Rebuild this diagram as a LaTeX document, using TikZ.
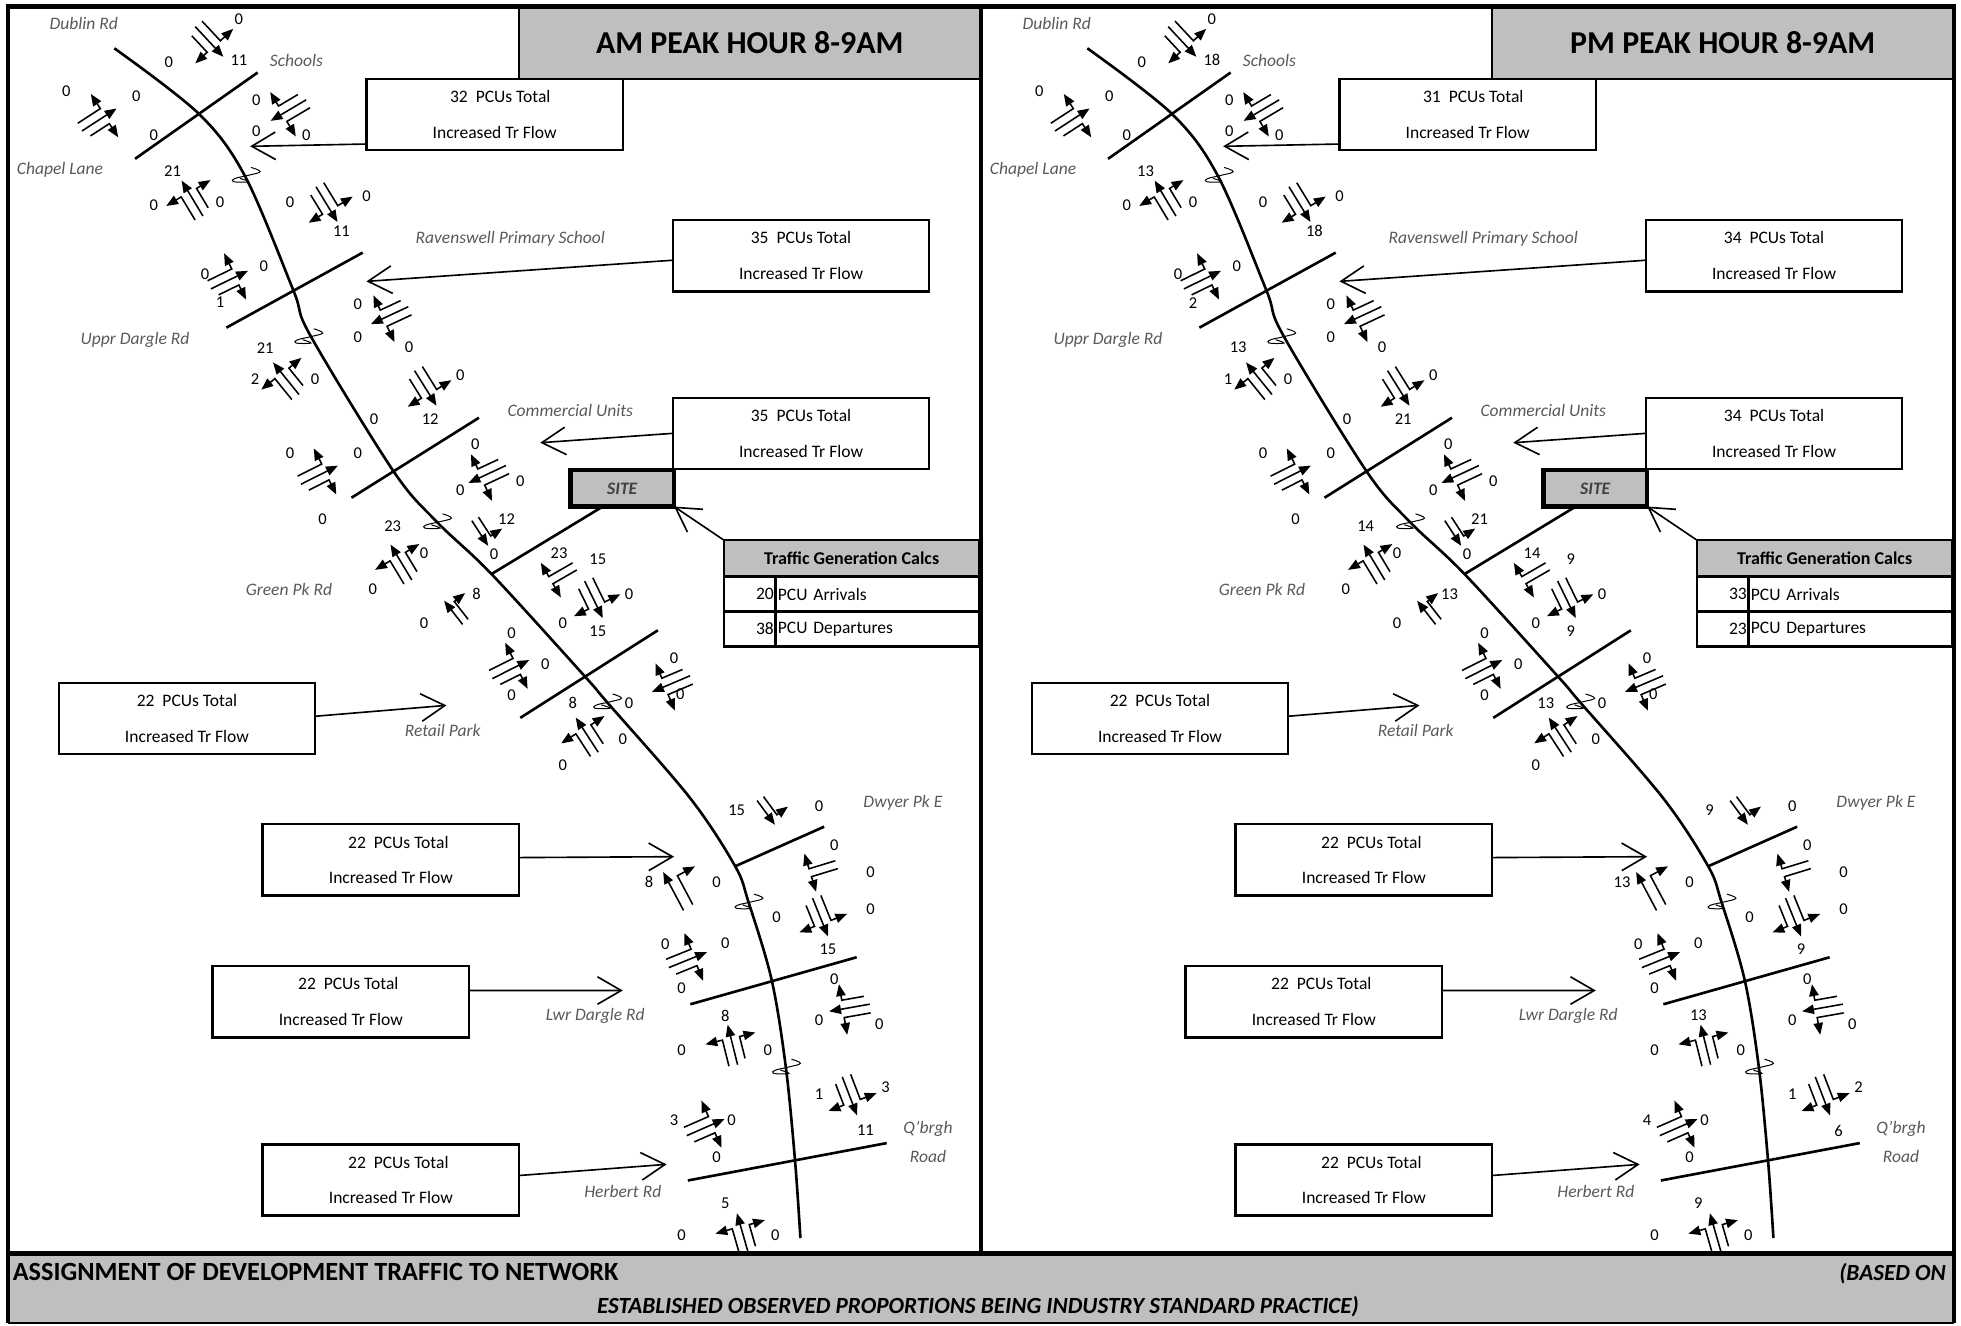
\documentclass[tikz,border=0pt]{standalone}
\usepackage{fontspec}
\setmainfont{Carlito}
\usetikzlibrary{arrows.meta}
\definecolor{hdrgray}{HTML}{BFBFBF}
\definecolor{roadtxt}{HTML}{595959}
\newcommand\fs[1]{\fontsize{#1}{#1}\selectfont}
\tikzset{
  road/.style={line width=2.1pt,line cap=butt},
  mvl/.style={line width=1.25pt,-{Triangle[length=9.5pt,width=7.5pt]}},
  squig/.style={line width=.8pt},
  val/.style={inner sep=0pt,font=\fs{13.2}},
  rname/.style={inner sep=0pt,text=roadtxt,font=\fs{14}\itshape},
  flowbox/.style={draw,line width=1.9pt,minimum width=205pt,minimum height=57pt,inner sep=0pt,outer sep=0pt,align=center,font=\fontsize{14}{28.5}\selectfont},
  callout/.style={line width=1.3pt,-{Straight Barb[length=19pt,width=22pt,line width=1.3pt]}},
  sitebox/.style={draw,line width=3.6pt,fill=hdrgray,minimum width=83pt,minimum height=29pt,inner sep=0pt,outer sep=0pt,text=black!75,font=\fs{14}\bfseries\itshape},
  hdrbox/.style={draw,line width=1.9pt,fill=hdrgray,inner sep=0pt,outer sep=0pt,font=\fs{14.4}\bfseries},
  cellbox/.style={draw,line width=1.9pt,inner sep=0pt,outer sep=0pt,font=\fs{14}},
  frameline/.style={line width=3.7pt},
}
\newcommand\glyphT{%
  \draw[mvl] (-16,0)--(17,0);
  \draw[mvl] (-15.5,-7)--(6,-7)--(6,-21);
  \draw[mvl] (-12.5,7)--(5.5,7)--(5.5,20);}
\newcommand\glyphSL{%
  \draw[mvl] (-12,0)--(12,0);
  \draw[mvl] (-11.5,-6)--(6.5,-6)--(6.5,-17);}
\newcommand\glyphSR{%
  \draw[mvl] (-12,0)--(12,0);
  \draw[mvl] (-11.5,6)--(6.5,6)--(6.5,17);}
\newcommand\glyphLR{%
  \draw[mvl] (-11,-3.3)--(11,-3.3)--(11,-16);
  \draw[mvl] (-11,3.3)--(11,3.3)--(11,16);}
\newcommand\squiggle{%
  \draw[squig] plot[smooth,tension=.7] coordinates {(4.8,-6.1)(12,-2.7)(2,0.3)(-8,2.7)(-9.3,5.3)(2.7,5.3)(-4,2.7)};}
\newcommand\pick[2]{\ifnum\which=1 #1\else #2\fi}
\newcommand\panel[2]{%
  % main road
  \draw[road] plot[smooth,tension=.55] coordinates {(91.4,38.6)(159,91)(196,141)(234.5,232)(248,268)(314.5,376.6)(349,417)(393,459)(467.8,541)(485,561)(551.7,638)(587.8,692.6)(598.4,721)(617,783.5)(628.3,853)(635.7,928)(640,990)};
  % side roads
  \foreach \xa/\ya/\xb/\yb in {108/127/206/58,181/262/290/202,281/398/383/334,393/459/482/405,416/574/526/504,588/692.6/659/661,552/803/685/765.4,550/943.9/709/914}
    {\draw[road] (\xa,\ya)--(\xb,\yb);}
  % direction squiggles
  \foreach \x/\y in {196/140,246/269,349/417,485/561,598/721,628/853}
    {\begin{scope}[shift={(\x,\y)}]\squiggle\end{scope}}
  % turning movement glyphs
  \foreach \x/\y/\a/\t/\s in {
    167/33/-47/T/1, 79/96/33/T/1, 231/88/210.6/T/1, 154/159/121/T/1, 261/163/-58.6/T/1,
    183/224/26/T/1, 312/252/205/T/1, 229/303/129/T/1, 340/310/-58/T/1, 255/380/26.7/T/1,
    390/379/205/T/1, 383.8/426.4/-57/SL/1, 321/450/121/T/1, 450/458.4/210/LR/1, 474.5/479/-64/T/1,
    362.5/489.8/128/SR/1, 408/535.4/26.7/T/1, 537/546.6/203/T/1, 469.6/588/123/T/1,
    612.5/649.8/-53.6/SL/1, 658.4/694.6/197/LR/1, 655.7/733/-68/T/1, 538.4/712.6/118/SR/1.45,
    549.6/767.7/22/T/1, 679.7/805.7/190/T/1, 585.9/835.8/104/T/1, 679.2/876/-69/T/1,
    563.8/901.6/23.7/T/1, 593.9/986.4/106/T/1}
    {\begin{scope}[shift={(\x,\y)},rotate=\a,scale=\s]\csname glyph\t\endcsname\end{scope}}
  % turning counts
  \foreach \x/\y/\am/\pmv [count=\n] in {
    191/15/0/0,191/48/11/18,135/50/0/0,53/73/0/0,109/77/0/0,123/108/0/0,205/80/0/0,205/105/0/0,245/108/0/0,
    138/137/21/13,123/164/0/0,176/162/0/0,232/162/0/0,293/157/0/0,273/185/11/18,164/219/0/0,211/213/0/0,176/242/1/2,
    286/243/0/0,286/270/0/0,327/278/0/0,212/278/21/13,204/303/2/1,252/303/0/0,368/300/0/0,299/335/0/0,344/335/12/21,
    232/362/0/0,286/362/0/0,380/355/0/0,416/385/0/0,368/392/0/0,258/415/0/0,405/415/12/21,314/421/23/14,395/443/0/0,
    339/442/0/0,298/471/0/0,447/442/23/14,478/447/15/9,503/475/0/0,381/475/8/13,450/498/0/0,339/498/0/0,478/505/15/9,
    409/506/0/0,436/531/0/0,409/556/0/0,539/526/0/0,544/555/0/0,458/562/8/13,503/562/0/0,498/591/0/0,450/612/0/0,
    589/648/15/9,655/645/0/0,667/676/0/0,696/697/0/0,519/705/8/13,573/705/0/0,621/733/0/0,696/727/0/0,532/755/0/0,
    580/754/0/0,662/759/15/9,545/790/0/0,667/783/0/0,655/816/0/0,703/819/0/0,580/812/8/13,545/840/0/0,614/840/0/0,
    655/875/1/1,708/869/3/2,539/896/3/4,585/896/0/0,692/904/11/6,573/925/0/0,580/962/5/9,545/988/0/0,620/988/0/0}
    {\node[val] (v\n) at (\x,\y) {\pick{\am}{\pmv}};}
  % road names
  \foreach \x/\y/\txt [count=\n] in {
    67/19/Dublin Rd,237/48/Schools,48/136/Chapel Lane,408/191/Ravenswell Primary School,108/272/Uppr Dargle Rd,
    456/328/Commercial Units,231/471/Green Pk Rd,354/584/Retail Park,722/642/Dwyer Pk E,476/812/Lwr Dargle Rd,
    742/903/Q'brgh,742/925/Road,498/953/Herbert Rd}
    {\node[rname] (r\n) at (\x,\y) {\txt};}
  % flow boxes and their callouts
  \foreach \x/\y/\off/\am/\pmv/\ang/\tx/\ty [count=\n] in {
    395.5/91.5/9/32/31/193.4/200/117,
    640.5/204.5/0/35/34/182.5/293/225,
    640.5/346.5/0/35/34/180/432/354,
    149.5/574.5/0/22/22/1.4/357/564,
    312.5/687.5/12/22/22/1.4/539/685,
    272.5/801/12/22/22/5/498/792,
    312.5/943.5/12/22/22/2.5/533/931}
  {
    \node[flowbox] (b\n) at (\x,\y) {\hspace*{\off pt}\pick{\am}{\pmv}\ \ PCUs Total\\Increased Tr Flow};
    \coordinate (t\n) at (\tx,\ty);
    \draw[callout] (b\n.\ang) -- (t\n);
  }
  % site and traffic generation table
  \node[sitebox] (site) at (497.5,390.5) {SITE};
  \node[hdrbox,minimum width=204pt,minimum height=29pt] (tg) at (681,446.5) {Traffic Generation Calcs};
  \node[cellbox,minimum width=41pt,minimum height=28pt,text width=38.5pt,align=right] (a1) at (599.5,475) {\pick{20}{33}};
  \node[cellbox,minimum width=163pt,minimum height=28pt,text width=159pt,align=left] (a2) at (701.5,475) {PCU Arrivals};
  \node[cellbox,minimum width=41pt,minimum height=28pt,text width=38.5pt,align=right] (d1) at (599.5,503) {\pick{38}{23}};
  \node[cellbox,minimum width=163pt,minimum height=28pt,text width=159pt,align=left] (d2) at (701.5,503) {PCU Departures};
  \draw[callout] (tg.north west) -- (site.south east);
  % title
  \node[hdrbox,minimum width=369pt,minimum height=58pt,font=\fs{25.5}\bfseries] (ttl) at (599.5,34) {#2};
  \draw[frameline] (6.4,5.2) rectangle (784.4,1002.3);
}
\begin{document}
\begin{tikzpicture}[x=1pt,y=-1pt]
\useasboundingbox (0,0) rectangle (1568,1059.5);
\begin{scope}[name prefix=am-]\def\which{1}\panel{am}{AM PEAK HOUR 8-9AM}\end{scope}
\begin{scope}[xshift=778pt,name prefix=pm-]\def\which{2}\panel{pm}{PM PEAK HOUR 8-9AM}\end{scope}
\fill[hdrgray] (6.4,1002.3) rectangle (1562.4,1058);
\draw[frameline] (6.4,1002.3) -- (1562.4,1002.3);
\draw[frameline] (6.4,1002.3) -- (6.4,1058) (1562.4,1002.3) -- (1562.4,1058);
\draw[line width=1.6pt] (6.4,1058) -- (1562.4,1058);
\node[anchor=west,inner sep=0pt,font=\fs{21}\bfseries] (ft1) at (10,1017) {ASSIGNMENT OF DEVELOPMENT TRAFFIC TO NETWORK};
\node[anchor=east,inner sep=0pt,font=\fs{18.5}\bfseries\itshape] (ft2) at (1556,1018) {(BASED ON};
\node[inner sep=0pt,font=\fs{18.5}\bfseries\itshape] (ft3) at (782,1045) {ESTABLISHED OBSERVED PROPORTIONS BEING INDUSTRY STANDARD PRACTICE)};
\end{tikzpicture}
\end{document}
